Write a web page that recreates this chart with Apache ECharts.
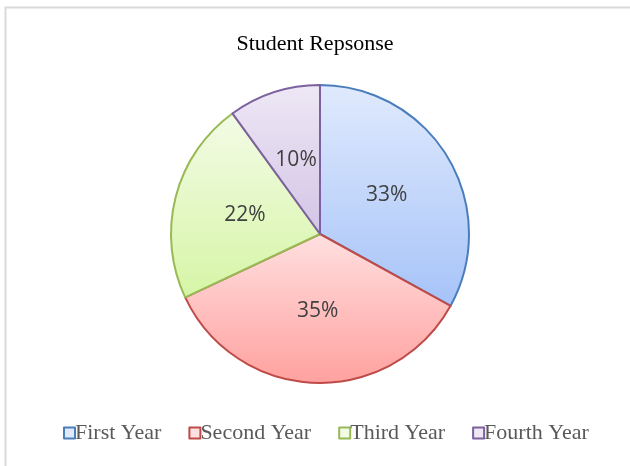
<!DOCTYPE html>
<html>
<head>
<meta charset="utf-8">
<script src="https://cdn.jsdelivr.net/npm/echarts@6/dist/echarts.min.js"></script>
<style>
  html, body { margin: 0; padding: 0; background: #ffffff; }
  #chart { width: 630px; height: 466px; }
</style>
</head>
<body>
<div id="chart"></div>
<script>
// Share of responses by year of study
const categories = ['First Year', 'Second Year', 'Third Year', 'Fourth Year'];
const values = [33, 35, 22, 10];

// Per-slice colours: border, gradient top, gradient bottom
const borderColors = ['#4a7ebb', '#be4b48', '#98b954', '#7d60a0'];
const topColors = ['#e0eafd', '#ffe0e0', '#f3fbe6', '#eee8f5'];
const bottomColors = ['#a6c3f8', '#ffa19f', '#d6f5a6', '#d3c4e6'];

const chart = echarts.init(document.getElementById('chart'), null, { renderer: 'canvas' });

function grad(i) {
  return new echarts.graphic.LinearGradient(0, 0, 0, 1, [
    { offset: 0, color: topColors[i] },
    { offset: 1, color: bottomColors[i] }
  ]);
}

const pieData = categories.map((name, i) => ({
  name: name,
  value: values[i],
  itemStyle: { color: grad(i), borderColor: borderColors[i], borderWidth: 2 }
}));

chart.setOption({
  backgroundColor: '#ffffff',
  animation: false,
  graphic: [{
    type: 'rect',
    shape: { x: 5.5, y: 7.5, width: 700, height: 600 },
    style: { fill: 'none', stroke: '#d9d9d9', lineWidth: 2 },
    silent: true,
    z: -10
  }],
  title: {
    text: 'Student Repsonse',
    left: 'center',
    top: 28,
    textStyle: {
      fontFamily: 'Liberation Serif',
      fontSize: 22,
      fontWeight: 'normal',
      color: '#000000'
    }
  },
  legend: {
    bottom: 17,
    left: 58,
    itemWidth: 11,
    itemHeight: 11,
    itemGap: 27,
    icon: 'rect',
    data: categories.map((name, i) => ({
      name: name,
      itemStyle: { color: topColors[i], borderColor: borderColors[i], borderWidth: 2 }
    })),
    textStyle: {
      fontFamily: 'Liberation Serif',
      fontSize: 22,
      color: '#595959',
      padding: [0, 0, 0, -5]
    }
  },
  series: [{
    type: 'pie',
    center: [320, 234],
    radius: [0, 149],
    startAngle: 90,
    clockwise: true,
    data: pieData,
    label: {
      show: true,
      position: 'inside',
      formatter: (p) => p.value + '%',
      fontFamily: 'Open Sans',
      fontSize: 21,
      color: '#404040'
    },
    labelLine: { show: false },
    emphasis: { disabled: true }
  }]
});
</script>
</body>
</html>
